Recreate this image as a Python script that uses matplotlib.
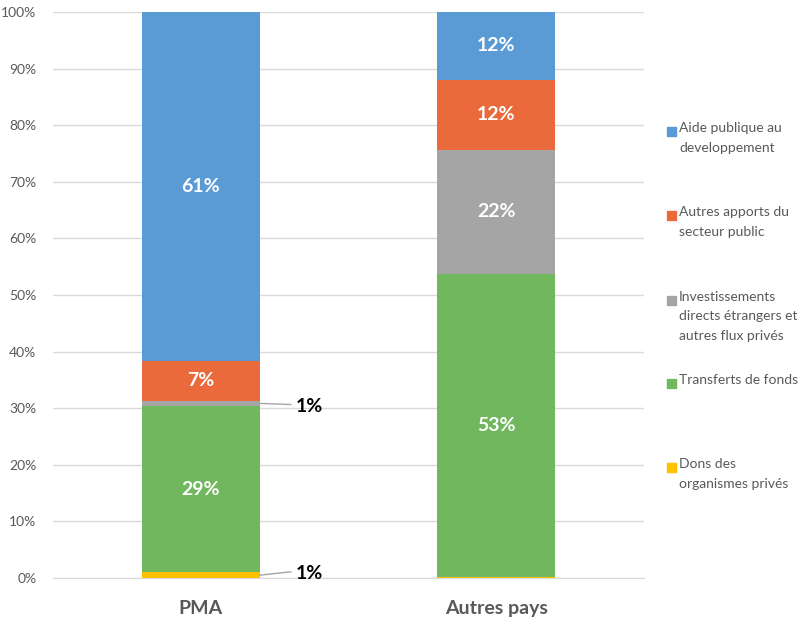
import matplotlib
matplotlib.use("Agg")
import matplotlib.pyplot as plt
from matplotlib.patches import Rectangle

categories = ["PMA", "Autres pays"]
series_names = ["Dons des\norganismes privés", "Transferts de fonds",
                "Investissements\ndirects étrangers et\nautres flux privés",
                "Autres apports du\nsecteur public", "Aide publique au\ndeveloppement"]
dons = [1.0, 0.1]
transferts = [29.4, 53.6]
ide = [0.9, 22.0]
autres = [7.1, 12.3]
apd = [61.6, 12.0]
labels_pma = ["1%", "29%", "1%", "7%", "61%"]
labels_autres = ["", "53%", "22%", "12%", "12%"]
yticks = list(range(0, 101, 10))

colors = ["#FFC000", "#70B75E", "#A5A5A5", "#EB6A3C", "#5B9BD5"]
series = [dons, transferts, ide, autres, apd]

plt.rcParams['font.family'] = ['Lato', 'DejaVu Sans']
fig = plt.figure(figsize=(8.02, 6.23), dpi=100)
ax = fig.add_axes([0.066, 0.0722, 0.737, 0.9085])

x = list(range(len(categories)))
bottoms = [0.0] * len(categories)
for vals, c in zip(series, colors):
    ax.bar(x, vals, bottom=bottoms, width=0.4, color=c, zorder=3)
    bottoms = [bo + v for bo, v in zip(bottoms, vals)]

ax.set_xlim(-0.5, 1.5)
ax.set_ylim(0, 100)
ax.set_yticks(yticks)
ax.set_yticklabels([f"{t}%" for t in yticks], color="#595959", fontsize=10)
ax.grid(axis="y", color="#D9D9D9", linewidth=1, zorder=0)
for s in ["top", "right", "left"]:
    ax.spines[s].set_visible(False)
ax.spines["bottom"].set_color("#D9D9D9")
ax.tick_params(axis="y", length=0, pad=12)
ax.tick_params(axis="x", length=0, pad=16)
ax.set_xticks(x)
ax.set_xticklabels(categories, fontsize=14, fontweight="bold", color="#595959")

all_labels = [labels_pma, labels_autres]
for i in range(len(categories)):
    bot = 0.0
    for j, vals in enumerate(series):
        v = vals[i]
        lab = all_labels[i][j]
        mid = bot + v / 2
        if lab:
            if v >= 3:
                ax.text(x[i], mid, lab, ha="center", va="center", color="white",
                        fontsize=14, fontweight="bold", zorder=4)
            else:
                xe = x[i] + 0.2
                dy = 0.6 if mid < 5 else -0.2
                ax.plot([xe, xe + 0.105], [mid, mid + dy], color="#A6A6A6", lw=1, zorder=4)
                ax.text(xe + 0.12, mid + dy - 0.3, lab, ha="left", va="center", color="black",
                        fontsize=14, fontweight="bold", zorder=4)
        bot += v

# legend, top to bottom
leg_y = [131, 215, 300, 383, 467]
order = [4, 3, 2, 1, 0]
W, H = 802, 623
for yy, k in zip(leg_y, order):
    fig.patches.append(Rectangle((667 / W, 1 - (yy + 5) / H), 9 / W, 9 / H,
                                 transform=fig.transFigure, color=colors[k]))
    fig.text(679 / W, 1 - (yy - 9) / H, series_names[k], ha="left", va="top",
             fontsize=10, color="#595959", linespacing=1.75)

fig.savefig("out.png", dpi=100)
